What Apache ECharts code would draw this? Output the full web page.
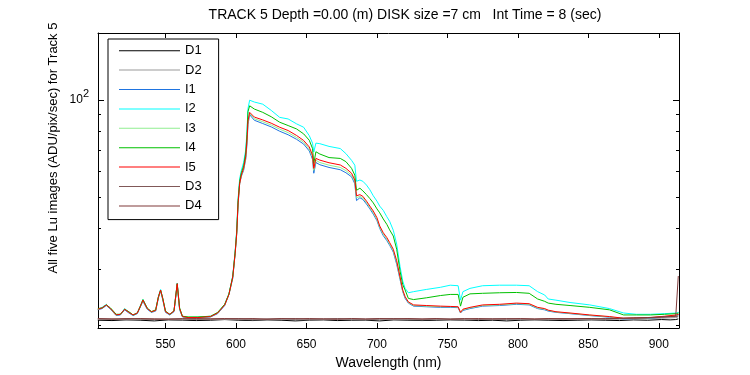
<!DOCTYPE html>
<html>
<head>
<meta charset="utf-8">
<script src="https://cdn.jsdelivr.net/npm/echarts@6/dist/echarts.min.js"></script>
<style>
html, body { margin: 0; padding: 0; background: #fff; }
#chart { width: 750px; height: 375px; }
</style>
</head>
<body>
<div id="chart"></div>
<script>
// wavelength grid (nm) for the five lit images
const wl = [502, 505, 508, 511, 515, 518, 521, 524, 527, 530,
  532, 534, 537, 540, 543, 545, 546.5, 548, 550, 553,
  556, 558.3, 560, 562, 566, 573, 582, 587, 592, 595,
  597.7, 599.4, 600.5, 601.5, 602.6, 603.8, 605.4, 606.9, 607.8, 608.5,
  609.7, 613, 619, 625, 631, 637, 643, 648, 652, 654.3,
  655.2, 656.7, 659.5, 666, 674, 678, 682, 684.3, 685.5, 687.9,
  690, 692.6, 695, 697.4, 700, 702, 704.5, 707, 709, 711.6,
  714, 716.4, 718.3, 720, 722.3, 726, 735, 745, 752, 757.6,
  759.3, 761, 766, 775, 787, 799, 808, 814, 819, 821.5,
  827, 837, 851, 865, 875, 884, 894, 904, 912.5, 914];

const I1 = [22.4, 22.6, 23.1, 22.5, 21.5, 21.6, 22.4, 21.9, 21.5, 21.8,
  22.8, 23.8, 22.5, 22.0, 22.2, 24.4, 25.6, 24.1, 22.0, 21.6,
  22.1, 26.8, 22.4, 21.3, 21.15, 21.15, 21.3, 21.8, 23.1, 25.0,
  28.0, 33.5, 38.5, 47.5, 55.0, 58.0, 60.5, 65.5, 73.0, 84.0,
  90.0, 86.5, 84.5, 82.5, 80.0, 78.0, 75.5, 73.0, 69.5, 65.5,
  59.3, 64.0, 63.0, 61.8, 60.8, 59.5, 57.8, 55.0, 48.8, 49.8,
  49.2, 47.6, 46.0, 44.3, 42.3, 40.0, 38.0, 36.7, 35.5, 33.8,
  31.0, 27.8, 25.5, 24.3, 23.5, 23.0, 22.9, 22.8, 22.8, 22.75,
  21.9, 22.3, 22.6, 23.0, 23.1, 23.3, 23.2, 22.6, 22.4, 22.2,
  22.0, 21.8, 21.5, 21.25, 21.0, 21.05, 21.1, 21.3, 21.5, 21.6];

const I2 = [22.5, 22.8, 23.3, 22.6, 21.6, 21.7, 22.6, 22.0, 21.6, 21.9,
  23.0, 24.1, 22.6, 22.1, 22.3, 24.7, 25.9, 24.3, 22.1, 21.7,
  22.2, 27.1, 22.6, 21.4, 21.2, 21.25, 21.4, 21.9, 23.3, 25.1,
  28.5, 34.0, 39.5, 49.5, 57.0, 60.5, 64.0, 70.0, 80.0, 94.0,
  99.8, 98.5, 97.0, 92.8, 88.3, 87.3, 84.3, 82.3, 77.5, 73.5,
  69.0, 73.5, 73.2, 71.8, 70.7, 68.2, 65.0, 62.8, 56.0, 56.5,
  56.0, 54.5, 52.7, 50.5, 48.6, 46.9, 45.5, 43.5, 42.1, 39.5,
  35.8, 30.5, 27.5, 26.1, 25.3, 25.5, 25.9, 26.3, 26.7, 26.6,
  24.0, 25.5, 26.1, 26.6, 26.7, 26.7, 26.6, 25.5, 24.9, 24.2,
  24.0, 23.6, 23.2, 22.6, 21.9, 21.7, 21.7, 21.8, 21.9, 22.0];

const I3 = [22.5, 22.7, 23.2, 22.6, 21.6, 21.7, 22.5, 22.0, 21.6, 21.9,
  22.9, 23.9, 22.6, 22.1, 22.3, 24.5, 25.7, 24.2, 22.1, 21.7,
  22.2, 26.9, 22.5, 21.35, 21.2, 21.2, 21.35, 21.9, 23.2, 25.0,
  28.2, 33.5, 38.5, 47.8, 55.0, 58.3, 61.0, 66.0, 74.0, 85.0,
  90.8, 87.5, 85.6, 83.6, 81.2, 79.2, 76.5, 74.0, 70.5, 66.5,
  60.5, 65.0, 64.0, 62.8, 61.8, 60.4, 58.5, 55.8, 49.8, 50.3,
  49.7, 48.1, 46.4, 44.8, 42.7, 40.3, 38.4, 37.1, 35.8, 34.1,
  31.4, 28.0, 25.6, 24.5, 23.6, 23.1, 23.0, 22.9, 22.9, 22.85,
  21.95, 22.4, 22.7, 23.1, 23.2, 23.4, 23.3, 22.7, 22.5, 22.3,
  22.05, 21.85, 21.55, 21.3, 21.05, 21.1, 21.15, 21.35, 21.55, 21.65];

const I4 = [22.6, 22.7, 23.2, 22.7, 21.7, 21.7, 22.5, 22.1, 21.6, 21.9,
  22.9, 24.1, 22.7, 22.1, 22.4, 24.6, 25.8, 24.4, 22.2, 21.7,
  22.2, 27.0, 22.7, 21.4, 21.3, 21.3, 21.4, 22.0, 23.3, 25.1,
  28.4, 33.8, 39.0, 48.8, 56.0, 59.5, 62.5, 68.5, 78.0, 92.0,
  95.9, 93.7, 91.5, 88.7, 85.3, 83.3, 81.3, 78.5, 75.0, 70.7,
  63.6, 69.1, 68.0, 66.3, 65.9, 64.4, 61.4, 58.5, 52.5, 53.3,
  52.3, 50.9, 49.5, 48.0, 46.0, 44.7, 42.8, 41.2, 39.6, 37.9,
  34.5, 29.5, 26.8, 25.8, 24.3, 24.1, 24.4, 24.8, 25.0, 25.0,
  23.0, 24.5, 25.1, 25.2, 25.3, 25.35, 25.2, 24.2, 23.8, 23.5,
  23.3, 23.1, 22.8, 22.4, 21.6, 21.6, 21.6, 21.7, 21.8, 21.9];

const I5 = [22.5, 22.7, 23.2, 22.6, 21.6, 21.7, 22.5, 22.0, 21.6, 21.9,
  22.9, 24.0, 22.6, 22.1, 22.3, 24.6, 25.8, 24.3, 22.1, 21.7,
  22.2, 27.0, 22.6, 21.35, 21.2, 21.2, 21.35, 21.9, 23.2, 25.0,
  28.3, 33.5, 38.5, 48.0, 55.0, 58.6, 61.4, 66.7, 75.0, 86.0,
  91.5, 88.5, 86.7, 84.7, 82.3, 80.4, 77.6, 74.9, 71.5, 67.4,
  61.4, 65.9, 65.1, 63.9, 62.9, 61.4, 59.3, 56.5, 50.5, 50.9,
  50.3, 48.6, 46.9, 45.3, 43.2, 40.7, 38.8, 37.5, 36.2, 34.5,
  31.8, 28.3, 25.8, 24.6, 23.7, 23.2, 23.1, 23.0, 22.95, 22.9,
  22.0, 22.5, 22.8, 23.2, 23.3, 23.5, 23.4, 22.8, 22.6, 22.35,
  22.1, 21.9, 21.6, 21.35, 21.1, 21.15, 21.2, 21.4, 21.6, 21.7];

// dark frames, coarser grid
const darkWl = [502, 512, 522, 532, 542, 552, 562, 572, 582, 592,
  602, 612, 622, 632, 642, 652, 662, 672, 682, 692,
  702, 712, 722, 732, 742, 752, 762, 772, 782, 792,
  802, 812, 822, 832, 842, 852, 862, 872, 882, 892,
  902, 908, 912, 913.3, 913.8];

const D1 = [20.8, 20.75, 20.85, 20.8, 20.7, 20.85, 20.8, 20.75, 20.8, 20.9,
  20.8, 20.75, 20.85, 20.8, 20.7, 20.8, 20.85, 20.75, 20.8, 20.8,
  20.7, 20.85, 20.8, 20.75, 20.8, 20.85, 20.8, 20.75, 20.8, 20.7,
  20.8, 20.85, 20.8, 20.75, 20.8, 20.85, 20.8, 20.75, 20.85, 20.8,
  20.9, 20.85, 20.9, 20.95, 21.0];
const D2 = [20.9, 20.95, 20.85, 20.9, 20.95, 20.9, 20.85, 20.95, 20.9, 20.9,
  20.95, 20.85, 20.9, 20.95, 20.9, 20.85, 20.9, 20.95, 20.9, 20.85,
  20.95, 20.9, 20.9, 20.85, 20.95, 20.9, 20.85, 20.9, 20.95, 20.9,
  20.9, 20.85, 20.95, 20.9, 20.9, 20.95, 20.9, 20.95, 21.0, 21.05,
  21.1, 21.15, 21.2, 21.2, 21.2];
const D3 = [21.0, 20.95, 21.05, 21.0, 20.95, 21.0, 21.05, 20.95, 21.0, 21.0,
  21.05, 20.95, 21.0, 21.0, 21.05, 20.95, 21.0, 21.05, 21.0, 20.95,
  21.0, 21.05, 21.0, 20.95, 21.0, 21.0, 21.05, 20.95, 21.0, 21.05,
  21.0, 20.95, 21.0, 21.05, 21.0, 21.0, 21.05, 21.05, 21.1, 21.15,
  21.25, 21.3, 21.35, 21.35, 21.4];
const D4 = [21.05, 21.0, 21.0, 21.05, 21.0, 20.95, 21.0, 21.05, 21.0, 21.05,
  21.0, 21.05, 20.95, 21.05, 21.0, 21.05, 21.0, 20.95, 21.05, 21.0,
  21.05, 21.0, 21.05, 21.0, 21.05, 20.95, 21.0, 21.05, 21.0, 21.0,
  21.05, 21.0, 21.05, 21.0, 21.05, 21.05, 21.0, 21.1, 21.15, 21.2,
  21.3, 21.35, 21.4, 21.4, 28.5];

const xTicks = [550, 600, 650, 700, 750, 800, 850, 900];
const yMajor = [100];
const yMinor = [20, 30, 40, 50, 60, 70, 80, 90];

const FONT = '"Liberation Sans", Arial, Helvetica, sans-serif';
const X_MIN = 502.1, X_MAX = 914.3;
const Y_MIN = 19.68, Y_MAX = 161.1;

const pairs = (xs, ys) => xs.map((x, i) => [x, ys[i]]);

const line = (name, xs, ys, color) => ({
  name: name,
  type: 'line',
  data: pairs(xs, ys),
  symbol: 'none',
  showSymbol: false,
  animation: false,
  silent: true,
  lineStyle: { width: 1, color: color },
  itemStyle: { color: color },
  xAxisIndex: 0,
  yAxisIndex: 0
});

const frameX = (pos, showLabel) => ({
  type: 'value',
  position: pos,
  min: X_MIN,
  max: X_MAX,
  axisLine: { show: true, onZero: false, lineStyle: { color: '#000', width: 1 } },
  axisTick: { show: true, inside: true, length: 5, customValues: xTicks, lineStyle: { color: '#000' } },
  axisLabel: { show: showLabel, customValues: xTicks, color: '#000', fontSize: 12, fontFamily: FONT, margin: 11 },
  splitLine: { show: false }
});

const frameY = (pos, ticks, len, showLine, showLabel) => ({
  type: 'log',
  logBase: 10,
  position: pos,
  min: Y_MIN,
  max: Y_MAX,
  axisLine: { show: showLine, lineStyle: { color: '#000', width: 1 } },
  axisTick: { show: true, inside: true, length: len, customValues: ticks, lineStyle: { color: '#000' } },
  axisLabel: {
    show: showLabel,
    customValues: ticks,
    margin: 9,
    formatter: () => '{b|10}{s|2}',
    rich: {
      b: { fontSize: 12, color: '#000', fontFamily: FONT },
      s: { fontSize: 11, color: '#000', fontFamily: FONT, padding: [0, 0, 12, 0] }
    }
  },
  splitLine: { show: false },
  minorTick: { show: false }
});

const chart = echarts.init(document.getElementById('chart'), null, { renderer: 'canvas' });

const xBottom = frameX('bottom', true);
xBottom.name = 'Wavelength (nm)';
xBottom.nameLocation = 'middle';
xBottom.nameGap = 28;
xBottom.nameTextStyle = { color: '#000', fontSize: 14, fontFamily: FONT };

chart.setOption({
  backgroundColor: '#fff',
  animation: false,
  title: {
    text: 'TRACK 5 Depth =0.00 (m) DISK size =7 cm   Int Time = 8 (sec)',
    left: 400,
    textAlign: 'center',
    top: 3,
    textStyle: { color: '#000', fontSize: 14, fontWeight: 'normal', fontFamily: FONT }
  },
  grid: { left: 98, right: 71, top: 33, bottom: 43 },
  xAxis: [xBottom, frameX('top', false)],
  yAxis: [
    frameY('left', yMajor, 6, true, true),
    frameY('right', yMajor, 6, true, false),
    frameY('left', yMinor, 3, false, false),
    frameY('right', yMinor, 3, false, false)
  ],
  legend: {
    orient: 'vertical',
    left: 108,
    top: 39,
    data: ['D1', 'D2', 'I1', 'I2', 'I3', 'I4', 'I5', 'D3', 'D4'],
    icon: 'rect',
    itemWidth: 61,
    itemHeight: 1,
    itemGap: 0,
    padding: [2, 17, 4, 11],
    borderColor: '#000',
    borderWidth: 1,
    backgroundColor: '#fff',
    selectedMode: false,
    textStyle: { color: '#000', fontSize: 13, lineHeight: 19.4, fontFamily: FONT }
  },
  graphic: [{
    type: 'text',
    x: 53,
    y: 148,
    rotation: Math.PI / 2,
    style: {
      text: 'All five Lu images (ADU/pix/sec) for Track 5',
      font: '13px ' + FONT,
      fill: '#000',
      align: 'center',
      verticalAlign: 'middle'
    }
  }],
  series: [
    line('D1', darkWl, D1, '#000000'),
    line('D2', darkWl, D2, '#999999'),
    line('I1', wl, I1, '#1f74e0'),
    line('I2', wl, I2, '#00ffff'),
    line('I3', wl, I3, '#90ee90'),
    line('I4', wl, I4, '#00c000'),
    line('I5', wl, I5, '#ff0000'),
    line('D3', darkWl, D3, '#805858'),
    line('D4', darkWl, D4, '#803a3a')
  ]
});
</script>
</body>
</html>
